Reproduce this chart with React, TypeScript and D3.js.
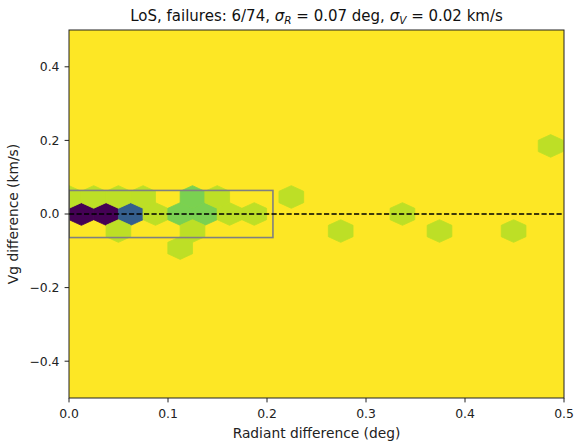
import React from 'react';
import * as d3 from 'd3';

const W = 576;
const H = 446;
const plot = { left: 69, right: 564, top: 30, bottom: 398 };

const xTicks = [0, 0.1, 0.2, 0.3, 0.4, 0.5];
const yTicks = [-0.4, -0.2, 0, 0.2, 0.4];

// hexbin cells (centre x, centre y, count)
const hexX = [
  0.0125, 0.0374, 0.0624, 0.0873, 0.1123, 0.1372, 0.1622, 0.1871, 0.3368,
  0.0, 0.02495, 0.0499, 0.07485, 0.12475, 0.1497, 0.22455,
  0.0499, 0.12475, 0.27445, 0.37425, 0.4491,
  0.1123,
  0.4865,
];
const hexY = [
  0, 0, 0, 0, 0, 0, 0, 0, 0,
  0.04625, 0.04625, 0.04625, 0.04625, 0.04625, 0.04625, 0.04625,
  -0.04625, -0.04625, -0.04625, -0.04625, -0.04625,
  -0.0925,
  0.185,
];
const hexCount = [
  10, 10, 7, 1, 2, 2, 1, 1, 1,
  1, 1, 1, 1, 2, 1, 1,
  1, 1, 1, 1, 1,
  1,
  1,
];
const countMax = 10;
const hexWidth = 0.02495;
const hexRowRepeat = 0.0925;

const boxX = [0, 0.206];
const boxY = [-0.064, 0.064];

const FONT = 'DejaVu Sans, sans-serif';

const fmt = (v: number) => (v < 0 ? '\u2212' : '') + Math.abs(v).toFixed(1);

export default function App() {
  const x = d3.scaleLinear().domain([0, 0.5]).range([plot.left, plot.right]);
  const y = d3.scaleLinear().domain([-0.5, 0.5]).range([plot.bottom, plot.top]);
  const color = (c: number) => d3.interpolateViridis(1 - c / countMax);
  const unit: [number, number][] = [
    [0.5, -0.5], [0.5, 0.5], [0, 1], [-0.5, 0.5], [-0.5, -0.5], [0, -1],
  ];
  const hexPath = (cx: number, cy: number) => {
    const pts = unit.map(([u, v]) => [x(cx + u * hexWidth), y(cy + (v * hexRowRepeat) / 3)]);
    return 'M' + pts.map((p) => p.join(',')).join('L') + 'Z';
  };
  const cxMid = (plot.left + plot.right) / 2;
  const cyMid = (plot.top + plot.bottom) / 2;
  return (
    <svg width={W} height={H} style={{ position: 'absolute', left: 0, top: 0 }} fontFamily={FONT}>
      <rect x={0} y={0} width={W} height={H} fill="#ffffff" />
      <defs>
        <clipPath id="plotclip">
          <rect x={plot.left} y={plot.top} width={plot.right - plot.left} height={plot.bottom - plot.top} />
        </clipPath>
      </defs>
      <rect x={plot.left} y={plot.top} width={plot.right - plot.left} height={plot.bottom - plot.top} fill={d3.interpolateViridis(1)} />
      <g clipPath="url(#plotclip)">
        {hexX.map((hx, i) => (
          <path key={i} d={hexPath(hx, hexY[i])} fill={color(hexCount[i])} stroke={color(hexCount[i])} strokeWidth={0.8} />
        ))}
        <rect
          x={x(boxX[0])}
          y={y(boxY[1])}
          width={x(boxX[1]) - x(boxX[0])}
          height={y(boxY[0]) - y(boxY[1])}
          fill="none"
          stroke="#808080"
          strokeWidth={1.6}
        />
        <line x1={plot.left} x2={plot.right} y1={y(0)} y2={y(0)} stroke="#000" strokeWidth={1.4} strokeDasharray="5.2,2.3" />
      </g>
      <rect x={plot.left} y={plot.top} width={plot.right - plot.left} height={plot.bottom - plot.top} fill="none" stroke="#222" strokeWidth={1} />
      {xTicks.map((t) => (
        <g key={'x' + t}>
          <line x1={x(t)} x2={x(t)} y1={plot.bottom} y2={plot.bottom + 4.4} stroke="#222" strokeWidth={1} />
          <text x={x(t)} y={418} textAnchor="middle" fontSize={12.4} fill="#222">{fmt(t)}</text>
        </g>
      ))}
      {yTicks.map((t) => (
        <g key={'y' + t}>
          <line x1={plot.left - 4.4} x2={plot.left} y1={y(t)} y2={y(t)} stroke="#222" strokeWidth={1} />
          <text x={59.5} y={y(t) + 4.4} textAnchor="end" fontSize={12.4} fill="#222">{fmt(t)}</text>
        </g>
      ))}
      <text x={cxMid} y={437.5} textAnchor="middle" fontSize={13.8} fill="#222">Radiant difference (deg)</text>
      <text transform={`translate(17.5,${cyMid}) rotate(-90)`} textAnchor="middle" fontSize={13.8} fill="#222">Vg difference (km/s)</text>
      <text x={cxMid} y={21} textAnchor="middle" fontSize={15} fill="#111">
        <tspan>LoS, failures: 6/74, </tspan>
        <tspan fontStyle="italic">σ</tspan>
        <tspan fontStyle="italic" fontSize={10.5} dy={2.8}>R</tspan>
        <tspan dy={-2.8}> = 0.07 deg, </tspan>
        <tspan fontStyle="italic">σ</tspan>
        <tspan fontStyle="italic" fontSize={10.5} dy={2.8}>V</tspan>
        <tspan dy={-2.8}> = 0.02 km/s</tspan>
      </text>
    </svg>
  );
}
